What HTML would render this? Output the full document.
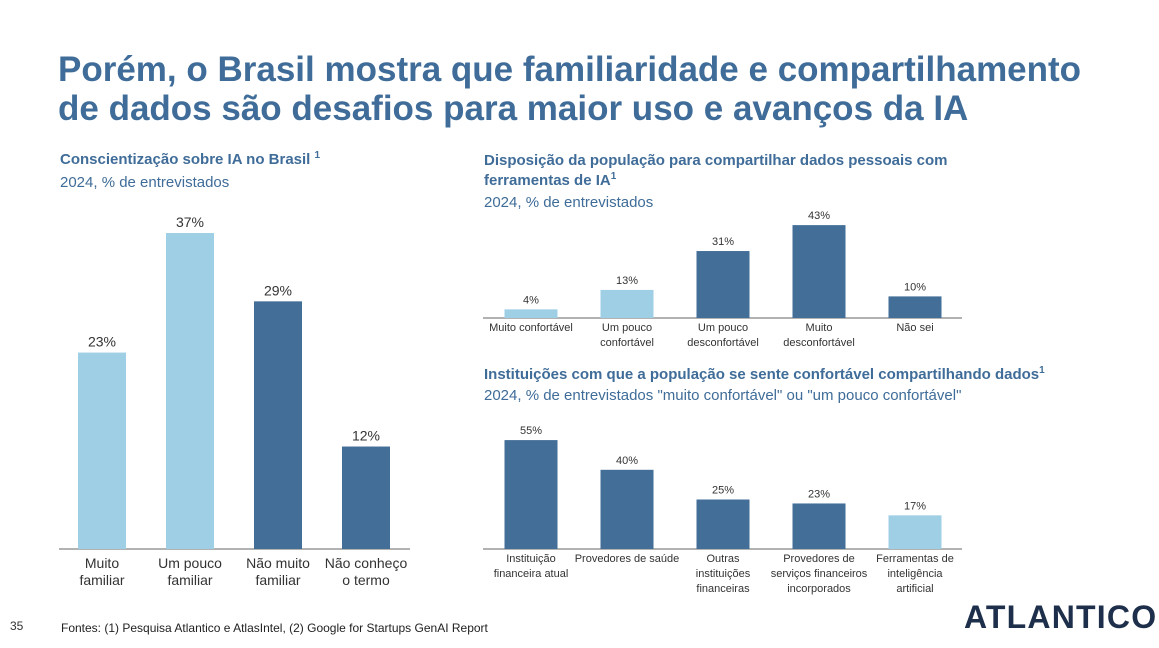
<!DOCTYPE html>
<html><head><meta charset="utf-8">
<style>
body{margin:0;width:1159px;height:648px;background:#fff;font-family:"Liberation Sans",sans-serif;overflow:hidden;position:relative}
.t{position:absolute;white-space:nowrap}
h1{position:absolute;left:58px;top:50px;margin:0;font-size:35px;line-height:39px;color:#3f6c98;font-weight:bold}
.ct{color:#3f6c98;font-weight:bold;font-size:15px}
.cs{color:#3f6c98;font-size:15px}
sup{line-height:0}
</style></head><body>
<h1>Porém, o Brasil mostra que familiaridade e compartilhamento<br>de dados são desafios para maior uso e avanços da IA</h1>
<div class="t ct" style="left:60px;top:151px">Conscientização sobre IA no Brasil <sup style="font-size:10px">1</sup></div>
<div class="t cs" style="left:60px;top:174px">2024, % de entrevistados</div>
<div class="t ct" style="left:484px;top:151px;line-height:20px">Disposição da população para compartilhar dados pessoais com<br>ferramentas de IA<sup style="font-size:10px">1</sup></div>
<div class="t cs" style="left:484px;top:194px">2024, % de entrevistados</div>
<div class="t ct" style="left:484px;top:366px">Instituições com que a população se sente confortável compartilhando dados<sup style="font-size:10px">1</sup></div>
<div class="t cs" style="left:484px;top:387px">2024, % de entrevistados "muito confortável" ou "um pouco confortável"</div>
<div class="t" style="left:10px;top:619px;font-size:12px;color:#333">35</div>
<div class="t" style="left:61px;top:621px;font-size:12px;color:#222">Fontes: (1) Pesquisa Atlantico e AtlasIntel, (2) Google for Startups GenAI Report</div>
<div class="t" style="left:964px;top:599px;font-size:32px;font-weight:bold;color:#1d2f4a;letter-spacing:1.2px">ATLANTICO</div>
<svg id="svg" width="1159" height="648" style="position:absolute;left:0;top:0"></svg>
<script>
const c1Cats=[["Muito","familiar"],["Um pouco","familiar"],["Não muito","familiar"],["Não conheço","o termo"]];
const c1Vals=[23,37,29,12];
const c1Dark=[false,false,true,true];
const c2Cats=[["Muito confortável"],["Um pouco","confortável"],["Um pouco","desconfortável"],["Muito","desconfortável"],["Não sei"]];
const c2Vals=[4,13,31,43,10];
const c2Dark=[false,false,true,true,true];
const c3Cats=[["Instituição","financeira atual"],["Provedores de saúde"],["Outras","instituições","financeiras"],["Provedores de","serviços financeiros","incorporados"],["Ferramentas de","inteligência","artificial"]];
const c3Vals=[55,40,25,23,17];
const c3Dark=[true,true,true,true,false];
const svg=document.getElementById('svg');const NS='http://www.w3.org/2000/svg';
function mk(t,a){const e=document.createElementNS(NS,t);for(const k in a)e.setAttribute(k,a[k]);svg.appendChild(e);return e;}
function chart(name,cats,vals,dark,x0,x1,base,scale,cx0,pitch,bw,fs,lfs,lh,off){
 const ax=mk('line',{x1:x0,x2:x1,y1:base,y2:base,stroke:'#999','stroke-width':1.5});
 
 
 vals.forEach((v,i)=>{const cx=cx0+i*pitch;const h=v*scale;
  const r=mk('rect',{x:cx-bw/2,y:base-h,width:bw,height:h,fill:dark[i]?'#426e98':'#9fcfe4'});
  
  
  const t=mk('text',{x:cx,y:base-h-6,'text-anchor':'middle','font-size':fs,fill:'#333','font-family':'Liberation Sans'});t.textContent=v+'%';
  
  
  cats[i].forEach((s,j)=>{const l=mk('text',{x:cx,y:base+lh+j*lh-2+off,'text-anchor':'middle','font-size':lfs,fill:'#333','font-family':'Liberation Sans'});l.textContent=s;
   
   });
 });
}
chart('awareness',c1Cats,c1Vals,c1Dark,59,410,549,8.54,102,88,48,14,14,17,4);
chart('willingness',c2Cats,c2Vals,c2Dark,483,962,318,2.16,531,96,53,11,11,15,0);
chart('institutions',c3Cats,c3Vals,c3Dark,483,962,549,1.98,531,96,53,11,11,15,0);
</script>
</body></html>
